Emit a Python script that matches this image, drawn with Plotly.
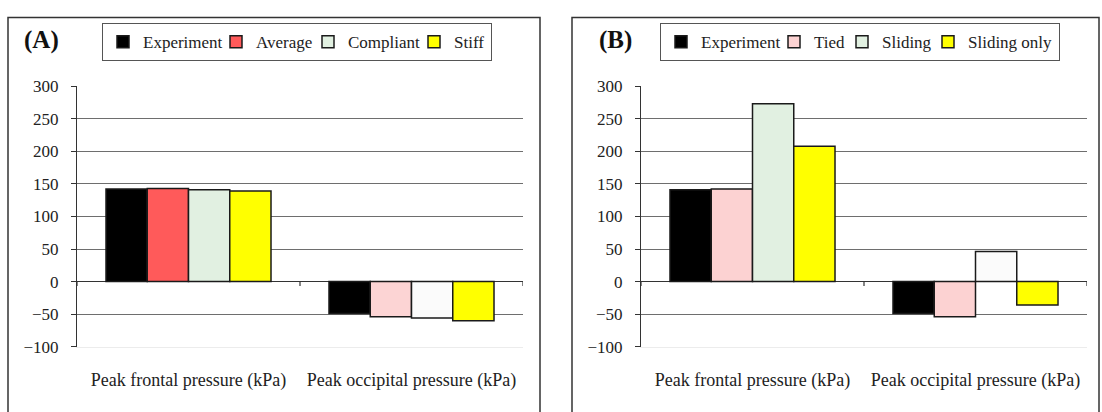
import plotly.graph_objects as go

W, H = 1102, 412

categories = ["Peak frontal pressure (kPa)", "Peak occipital pressure (kPa)"]
y_ticks = [-100, -50, 0, 50, 100, 150, 200, 250, 300]
grid_vals = [-50, 0, 50, 100, 150, 200, 250]

# Panel A
names_a = ["Experiment", "Average", "Compliant", "Stiff"]
experiment_a = [142, -49]
average_a = [143, -54]
compliant_a = [141, -56]
stiff_a = [139, -60]

# Panel B
names_b = ["Experiment", "Tied", "Sliding", "Sliding only"]
experiment_b = [141, -49]
tied_b = [142, -54]
sliding_b = [273, 46]
sliding_only_b = [208, -36]

# styles
colors_a = ["#000000", ["#FF5A5A", "#FCD4D4"], ["#E1F0E1", "#FBFBFB"], "#FFFF00"]
colors_b = ["#000000", ["#FCD2D2", "#FCD2D2"], ["#E1F0E1", "#FBFBFB"], "#FFFF00"]
legend_w_a = [68, 47, 61, 32]
legend_w_b = [68, 23, 41, 86]

FONT = "Times New Roman"

def px(x):
    return x / W

def py(y):
    return 1 - y / H

fig = go.Figure()

for name, vals, col, lw in zip(names_a, [experiment_a, average_a, compliant_a, stiff_a], colors_a, legend_w_a):
    fig.add_trace(go.Bar(
        x=categories, y=vals, name=name, xaxis="x", yaxis="y", legend="legend",
        legendwidth=lw,
        marker=dict(color=col, line=dict(color="#1a1a1a", width=1.5)),
    ))

for name, vals, col, lw in zip(names_b, [experiment_b, tied_b, sliding_b, sliding_only_b], colors_b, legend_w_b):
    fig.add_trace(go.Bar(
        x=categories, y=vals, name=name, xaxis="x2", yaxis="y2", legend="legend2",
        legendwidth=lw,
        marker=dict(color=col, line=dict(color="#1a1a1a", width=1.5)),
    ))

def xaxis(domain, anchor):
    return dict(
        domain=domain, anchor=anchor, type="category", range=[-0.5, 1.5],
        showgrid=False, showline=True, linecolor="#ececec", linewidth=1,
        ticks="", tickfont=dict(family=FONT, size=18, color="#222"),
        ticklabelstandoff=17, fixedrange=True,
    )

def yaxis(anchor):
    return dict(
        domain=[py(354), py(81)], anchor=anchor, range=[-100, 300],
        tickvals=y_ticks, showgrid=False, fixedrange=True,
        minor=dict(tickvals=grid_vals, showgrid=True, gridcolor="#6e6e6e", gridwidth=1, ticks=""),
        zeroline=True, zerolinecolor="#333", zerolinewidth=1.2,
        showline=True, linecolor="#333", linewidth=1.2,
        ticks="outside", ticklen=5, tickcolor="#333",
        tickfont=dict(family=FONT, size=17, color="#222"),
        ticklabelstandoff=9,
    )

legend_common = dict(
    orientation="h", yanchor="top", y=py(15), xanchor="center",
    bordercolor="#555", borderwidth=1, bgcolor="white",
    font=dict(family=FONT, size=17, color="#222"),
    itemwidth=30, tracegroupgap=0,
)

fig.update_layout(
    width=W, height=H, margin=dict(l=0, r=0, t=0, b=0),
    font=dict(family=FONT, size=17, color="#222"),
    paper_bgcolor="white", plot_bgcolor="white",
    barmode="group", bargap=0.26, bargroupgap=0,
    xaxis=xaxis([px(77), px(523)], "y"),
    yaxis=yaxis("x"),
    xaxis2=xaxis([px(641), px(1087)], "y2"),
    yaxis2=yaxis("x2"),
    legend=dict(legend_common, x=px(297)),
    legend2=dict(legend_common, x=px(860)),
    showlegend=True,
)

# panel frames
fig.add_shape(type="rect", xref="paper", yref="paper", x0=px(8), x1=px(540), y0=-0.2, y1=py(9),
              line=dict(color="#333", width=1.5), layer="below")
fig.add_shape(type="rect", xref="paper", yref="paper", x0=px(572), x1=px(1099), y0=-0.2, y1=py(9),
              line=dict(color="#333", width=1.5), layer="below")

# category boundary ticks on the zero line
for xr, yr in [("x", "y"), ("x2", "y2")]:
    for b in [-0.5, 0.5, 1.5]:
        fig.add_shape(type="line", xref=xr, yref=yr, x0=b, x1=b, y0=0, y1=-7,
                      line=dict(color="#333", width=1.2))

fig.add_annotation(text="<b>(A)</b>", xref="paper", yref="paper", x=px(22), y=py(33),
                   xanchor="left", yanchor="middle", showarrow=False,
                   font=dict(family=FONT, size=25, color="#111"))
fig.add_annotation(text="<b>(B)</b>", xref="paper", yref="paper", x=px(597), y=py(33),
                   xanchor="left", yanchor="middle", showarrow=False,
                   font=dict(family=FONT, size=25, color="#111"))

fig.write_html(
    "out.html", config={"displayModeBar": False},
    post_script=(
        "document.documentElement.style.margin='0';"
        "document.body.style.margin='0';"
        "document.body.style.overflow='hidden';"
    ),
)
